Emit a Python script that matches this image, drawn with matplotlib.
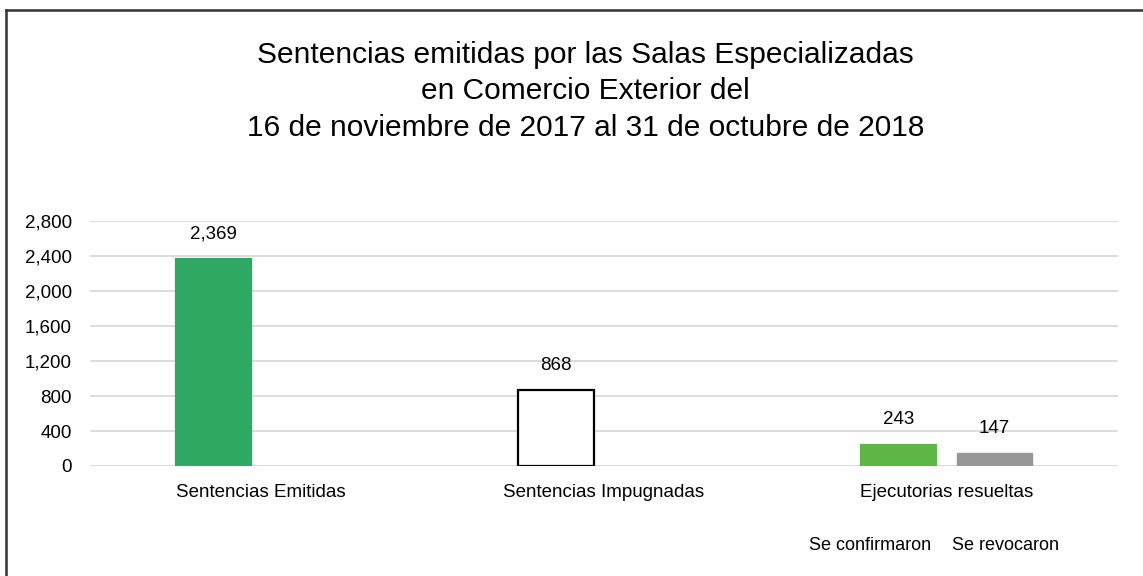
import matplotlib
matplotlib.use('Agg')
import matplotlib.pyplot as plt
from matplotlib.lines import Line2D
import numpy as np

plt.rcParams['font.family'] = ['Liberation Sans', 'DejaVu Sans']

categories = ['Sentencias Emitidas', 'Sentencias Impugnadas', 'Ejecutorias resueltas']
main_values = [2369, 868, 243]
revocaron_values = [147]
main_colors = ['#2ea862', '#ffffff', '#5db646']
main_edges = ['#2ea862', '#000000', '#5db646']
yticks = [0, 400, 800, 1200, 1600, 2000, 2400, 2800]
sub_labels = ['Se confirmaron', 'Se revocaron']
title_lines = ['Sentencias emitidas por las Salas Especializadas',
               'en Comercio Exterior del',
               '16 de noviembre de 2017 al 31 de octubre de 2018']

fig = plt.figure(figsize=(11.43, 5.76), dpi=100)
ax = fig.add_axes([0.0787, 0.191, 0.8993, 0.425])

x = np.arange(len(categories))
off = 0.14
w = 0.22
bars1 = ax.bar(x - off, main_values, width=w, color=main_colors,
               edgecolor=main_edges, linewidth=1.6, zorder=3)
bars2 = ax.bar(x[2:] + off, revocaron_values, width=w, color='#969696',
               edgecolor='#969696', zorder=3)

for b in list(bars1) + list(bars2):
    ax.annotate('{:,}'.format(int(b.get_height())),
                (b.get_x() + b.get_width() / 2, b.get_height()),
                xytext=(0, 18), textcoords='offset points',
                ha='center', va='center', fontsize=13.5)

ax.set_xlim(-0.5, 2.5)
ax.set_ylim(0, 2800)
ax.set_yticks(yticks)
ax.set_yticklabels(['{:,}'.format(v) for v in yticks])
ax.set_xticks(x)
ax.set_xticklabels(categories)
ax.tick_params(axis='y', length=0, pad=13, labelsize=13.5)
ax.tick_params(axis='x', length=0, pad=13, labelsize=13.5)
ax.grid(axis='y', color='#d9d9d9', linewidth=1.3, zorder=0)
for s in ax.spines.values():
    s.set_visible(False)

# labels under the third group
for xp, lab in zip([870, 1005], sub_labels):
    fig.text(xp / 1143, 1 - 545 / 576, lab, ha='center', va='center', fontsize=13)

for i, line in enumerate(title_lines):
    fig.text(0.512, 1 - [55, 91, 128][i] / 576, line, ha='center', va='center',
             fontsize=21.5)

# frame (left and top edges)
fig.add_artist(Line2D([6 / 1143, 6 / 1143], [0, 1 - 10 / 576], color='#333333',
                      linewidth=1.8, transform=fig.transFigure))
fig.add_artist(Line2D([6 / 1143, 1], [1 - 10 / 576, 1 - 10 / 576], color='#333333',
                      linewidth=1.8, transform=fig.transFigure))

plt.savefig('out.png', dpi=100)
